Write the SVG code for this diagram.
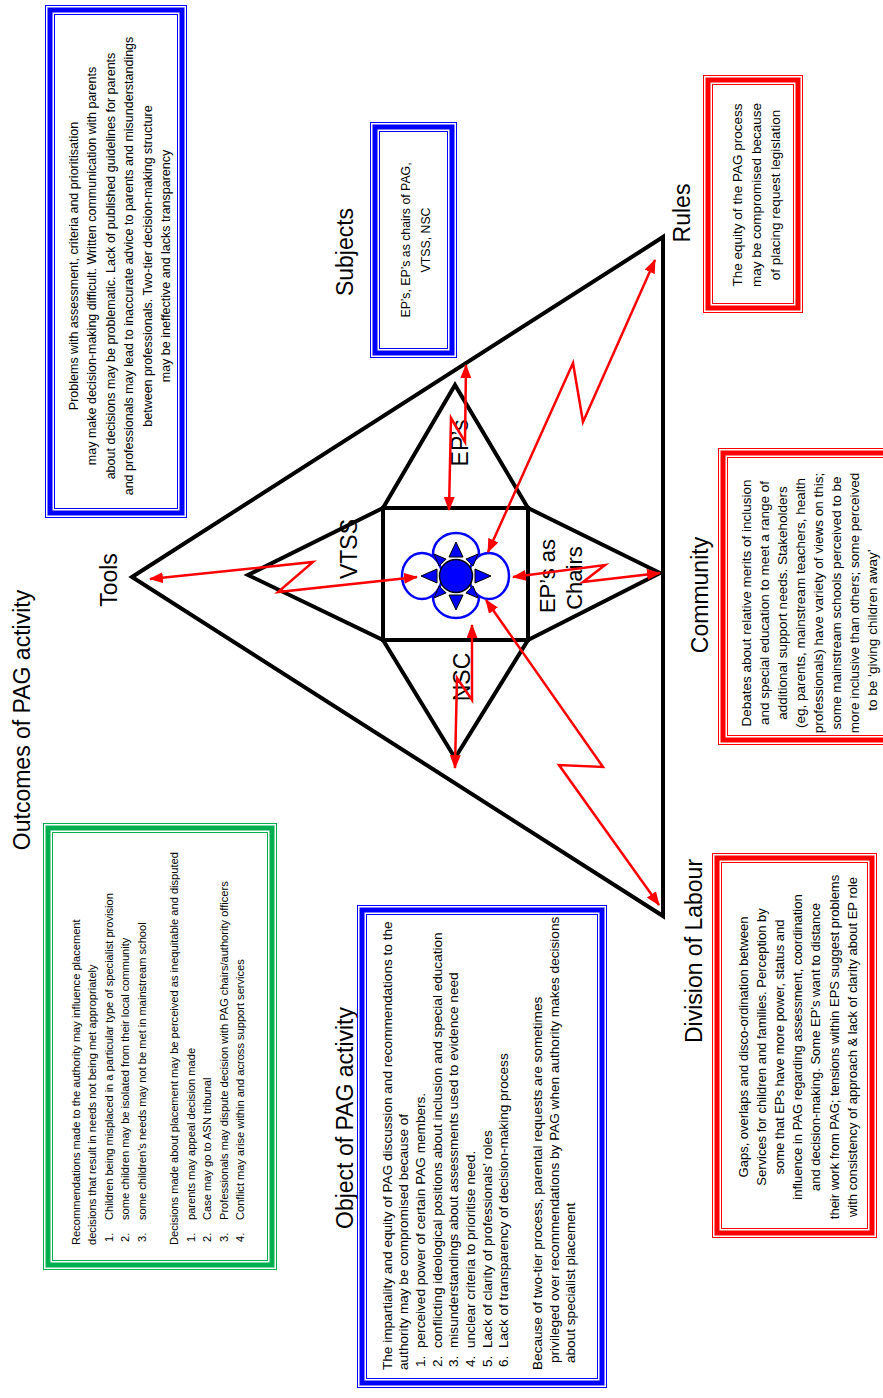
<svg xmlns="http://www.w3.org/2000/svg" width="883" height="1398" viewBox="0 0 883 1398">
<defs>
<style>
text { font-family: "Liberation Sans", Arial, sans-serif; fill: #000; }
.title { font-size: 23px; text-anchor: middle; }
.lbl { font-size: 23px; text-anchor: middle; }
.lbl2 { font-size: 22px; text-anchor: middle; }
.c { text-anchor: middle; }
.thin { fill: none; stroke-width: 1; }
.thick { fill: none; stroke-width: 5; }
.blue { stroke: #0000FF; }
.red { stroke: #FF0000; }
.green { stroke: #00B050; }
.frame { fill: none; stroke: #000; stroke-width: 4; stroke-linejoin: miter; }
.conn { fill: none; stroke: #FF0000; stroke-width: 2.5; stroke-linejoin: miter; }
.petal { fill: #fff; stroke: #0000FF; stroke-width: 2.5; }
.barrow { fill: #0000FF; stroke: #000; stroke-width: 1; stroke-linejoin: miter; }
.t-tools { font-size: 12.5px; }
.t-subj { font-size: 12.3px; }
.t-rules { font-size: 13.5px; }
.t-comm { font-size: 13.5px; }
.t-div { font-size: 13px; }
.t-out { font-size: 11.1px; }
.t-obj { font-size: 13.6px; }
</style>
<marker id="ah" markerUnits="userSpaceOnUse" markerWidth="14" markerHeight="11" refX="13" refY="5.5" orient="auto-start-reverse" viewBox="0 0 14 11">
<path d="M0,0 L14,5.5 L0,11 Z" fill="#FF0000"/>
</marker>
</defs>

<!-- Activity triangle and mediating structure -->
<g id="activity-triangle">
<polygon class="frame" points="132,577 663,237 663,916"/>
</g>
<g id="node-eps">
<polygon class="frame" points="383,508 455,385 528,508"/>
<text class="lbl" transform="translate(468,443) rotate(-90)">EP’s</text>
</g>
<g id="node-chairs">
<polygon class="frame" points="528,508 660,573 528,640"/>
<text class="lbl2" transform="translate(555,576) rotate(-90)">EP’s as</text>
<text class="lbl2" transform="translate(582,578) rotate(-90)">Chairs</text>
</g>
<g id="node-nsc">
<polygon class="frame" points="383,640 455,758 528,640"/>
<text class="lbl" transform="translate(470,677) rotate(-90)">NSC</text>
</g>
<g id="node-vtss">
<polygon class="frame" points="383,508 248,575 383,640"/>
<text class="lbl" transform="translate(357,549) rotate(-90)">VTSS</text>
</g>
<g id="node-pag">
<rect class="frame" x="383" y="508" width="145" height="132"/>
<ellipse class="petal" cx="456" cy="554" rx="23" ry="21"/>
<ellipse class="petal" cx="456" cy="597" rx="23" ry="21"/>
<ellipse class="petal" cx="422" cy="576" rx="20" ry="23"/>
<ellipse class="petal" cx="489" cy="576" rx="20" ry="23"/>
<polygon class="barrow" points="456,542 449,557 463,557"/>
<polygon class="barrow" points="456,610 449,595 463,595"/>
<polygon class="barrow" points="421,576 437,569 437,583"/>
<polygon class="barrow" points="491,576 475,569 475,583"/>
<polygon class="barrow" points="434.1,554.1 446.1,559.1 439.1,566.1"/>
<polygon class="barrow" points="477.9,554.1 473,566.1 465.9,559.1"/>
<polygon class="barrow" points="477.9,597.9 465.9,592.9 473,585.9"/>
<polygon class="barrow" points="434.1,597.9 439.1,585.9 446.1,592.9"/>
<circle cx="456" cy="576" r="16.5" fill="#0000FF" stroke="#000" stroke-width="1.5"/>
</g>

<!-- Corner titles -->
<g id="label-tools"><text class="title" transform="translate(117,580) rotate(-90)">Tools</text></g>
<g id="label-subjects"><text class="title" transform="translate(353,252) rotate(-90)">Subjects</text></g>
<g id="label-rules"><text class="title" transform="translate(690,213) rotate(-90)">Rules</text></g>
<g id="label-community"><text class="title" transform="translate(708,595) rotate(-90)">Community</text></g>
<g id="label-division"><text class="title" transform="translate(702,951) rotate(-90)">Division of Labour</text></g>
<g id="label-outcomes"><text class="title" transform="translate(30,720) rotate(-90)">Outcomes of PAG activity</text></g>
<g id="label-object"><text class="title" transform="translate(353,1118) rotate(-90)">Object of PAG activity</text></g>

<!-- Tools box -->
<g id="box-tools">
<rect class="thin blue" x="45.5" y="5.5" width="141" height="512"/>
<rect class="thick blue" x="50" y="10" width="132" height="503"/>
<rect class="thin blue" x="54.5" y="14.5" width="123" height="494"/>
<g class="t-tools c">
<text transform="translate(77.8,266) rotate(-90)">Problems with assessment, criteria and prioritisation</text>
<text transform="translate(96.3,266) rotate(-90)">may make decision-making difficult. Written communication with parents</text>
<text transform="translate(114.8,266) rotate(-90)">about decisions may be problematic. Lack of published guidelines for parents</text>
<text transform="translate(133.3,266) rotate(-90)">and professionals may lead to inaccurate advice to parents and misunderstandings</text>
<text transform="translate(151.8,266) rotate(-90)">between professionals. Two-tier decision-making structure</text>
<text transform="translate(170.3,266) rotate(-90)">may be ineffective and lacks transparency</text>
</g>
</g>

<!-- Subjects box -->
<g id="box-subjects">
<rect class="thin blue" x="370.5" y="122.5" width="86" height="235"/>
<rect class="thick blue" x="375" y="127" width="77" height="226"/>
<rect class="thin blue" x="379.5" y="131.5" width="68" height="217"/>
<g class="t-subj c">
<text transform="translate(410,240) rotate(-90)">EP’s, EP’s as chairs of PAG,</text>
<text transform="translate(430,240) rotate(-90)">VTSS, NSC</text>
</g>
</g>

<!-- Rules box -->
<g id="box-rules">
<rect class="thin red" x="703.5" y="75.5" width="99" height="237"/>
<rect class="thick red" x="708" y="80" width="90" height="228"/>
<rect class="thin red" x="712.5" y="84.5" width="81" height="219"/>
<g class="t-rules c">
<text transform="translate(742,195) rotate(-90)">The equity of the PAG process</text>
<text transform="translate(761,195) rotate(-90)">may be compromised because</text>
<text transform="translate(780,195) rotate(-90)">of placing request legislation</text>
</g>
</g>

<!-- Community box -->
<g id="box-community">
<rect class="thin red" x="718.5" y="448.5" width="200" height="296"/>
<rect class="thick red" x="723" y="453" width="200" height="287"/>
<rect class="thin red" x="727.5" y="457.5" width="200" height="278"/>
<g class="t-comm c">
<text transform="translate(751,603) rotate(-90)">Debates about relative merits of inclusion</text>
<text transform="translate(769,603) rotate(-90)">and special education to meet a range of</text>
<text transform="translate(787,603) rotate(-90)">additional support needs. Stakeholders</text>
<text transform="translate(805,603) rotate(-90)">(eg, parents, mainstream teachers, health</text>
<text transform="translate(823,603) rotate(-90)">professionals) have variety of views on this;</text>
<text transform="translate(841,603) rotate(-90)">some mainstream schools perceived to be</text>
<text transform="translate(859,603) rotate(-90)">more inclusive than others; some perceived</text>
<text transform="translate(877,630) rotate(-90)">to be ‘giving children away’</text>
</g>
</g>

<!-- Division of Labour box -->
<g id="box-division">
<rect class="thin red" x="712.5" y="853.5" width="164" height="384"/>
<rect class="thick red" x="717" y="858" width="155" height="375"/>
<rect class="thin red" x="721.5" y="862.5" width="146" height="366"/>
<g class="t-div c">
<text transform="translate(748,1047) rotate(-90)">Gaps, overlaps and disco-ordination between</text>
<text transform="translate(766.1,1047) rotate(-90)">Services for children and families. Perception by</text>
<text transform="translate(784.2,1047) rotate(-90)">some that EPs have more power, status and</text>
<text transform="translate(802.3,1047) rotate(-90)">influence in PAG regarding assessment, coordination</text>
<text transform="translate(820.4,1047) rotate(-90)">and decision-making. Some EP’s want to distance</text>
<text transform="translate(838.5,1047) rotate(-90)">their work from PAG; tensions within EPS suggest problems</text>
<text transform="translate(856.6,1047) rotate(-90)">with consistency of approach &amp; lack of clarity about EP role</text>
</g>
</g>

<!-- Outcomes box -->
<g id="box-outcomes">
<rect class="thin green" x="43.5" y="823.5" width="233" height="446"/>
<rect class="thick green" x="48" y="828" width="224" height="437"/>
<rect class="thin green" x="52.5" y="832.5" width="215" height="428"/>
<g class="t-out">
<text transform="translate(80,1245) rotate(-90)">Recommendations made to the authority may influence placement</text>
<text transform="translate(96.4,1245) rotate(-90)">decisions that result in needs not being met appropriately</text>
<text transform="translate(112.8,1242) rotate(-90)">1.</text>
<text transform="translate(112.8,1220) rotate(-90)">Children being misplaced in a particular type of specialist provision</text>
<text transform="translate(129.2,1242) rotate(-90)">2.</text>
<text transform="translate(129.2,1220) rotate(-90)">some children may be isolated from their local community</text>
<text transform="translate(145.6,1242) rotate(-90)">3.</text>
<text transform="translate(145.6,1220) rotate(-90)">some children’s needs may not be met in mainstream school</text>
<text transform="translate(178.4,1245) rotate(-90)">Decisions made about placement may be perceived as inequitable and disputed</text>
<text transform="translate(194.8,1242) rotate(-90)">1.</text>
<text transform="translate(194.8,1220) rotate(-90)">parents may appeal decision made</text>
<text transform="translate(211.2,1242) rotate(-90)">2.</text>
<text transform="translate(211.2,1220) rotate(-90)">Case may go to ASN tribunal</text>
<text transform="translate(227.6,1242) rotate(-90)">3.</text>
<text transform="translate(227.6,1220) rotate(-90)">Professionals may dispute decision with PAG chairs/authority officers</text>
<text transform="translate(244,1242) rotate(-90)">4.</text>
<text transform="translate(244,1220) rotate(-90)">Conflict may arise within and across support services</text>
</g>
</g>

<!-- Object box -->
<g id="box-object">
<rect class="thin blue" x="357.5" y="905.5" width="249" height="482"/>
<rect class="thick blue" x="362" y="910" width="240" height="473"/>
<rect class="thin blue" x="366.5" y="914.5" width="231" height="464"/>
<g class="t-obj">
<text transform="translate(391.5,1370) rotate(-90)">The impartiality and equity of PAG discussion and recommendations to the</text>
<text transform="translate(408.2,1370) rotate(-90)">authority may be compromised because of</text>
<text transform="translate(424.9,1367) rotate(-90)">1.</text>
<text transform="translate(424.9,1348) rotate(-90)">perceived power of certain PAG members.</text>
<text transform="translate(441.6,1367) rotate(-90)">2.</text>
<text transform="translate(441.6,1348) rotate(-90)">conflicting ideological positions about inclusion and special education</text>
<text transform="translate(458.3,1367) rotate(-90)">3.</text>
<text transform="translate(458.3,1348) rotate(-90)">misunderstandings about assessments used to evidence need</text>
<text transform="translate(475,1367) rotate(-90)">4.</text>
<text transform="translate(475,1348) rotate(-90)">unclear criteria to prioritise need.</text>
<text transform="translate(491.7,1367) rotate(-90)">5.</text>
<text transform="translate(491.7,1348) rotate(-90)">Lack of clarity of professionals’ roles</text>
<text transform="translate(508.4,1367) rotate(-90)">6.</text>
<text transform="translate(508.4,1348) rotate(-90)">Lack of transparency of decision-making process</text>
<text transform="translate(541.8,1370) rotate(-90)">Because of two-tier process, parental requests are sometimes</text>
<text transform="translate(558.5,1363) rotate(-90)">privileged over recommendations by PAG when authority makes decisions</text>
<text transform="translate(575.2,1363) rotate(-90)">about specialist placement</text>
</g>
</g>

<!-- Connectors -->
<g id="connectors">
<polyline class="conn" marker-start="url(#ah)" marker-end="url(#ah)" points="150,579 313,562 278,592 417,577"/>
<polyline class="conn" marker-start="url(#ah)" marker-end="url(#ah)" points="466,365 465,442 451,418 449,510"/>
<polyline class="conn" marker-start="url(#ah)" marker-end="url(#ah)" points="513,577 605,565 583,582 660,573"/>
<polyline class="conn" marker-start="url(#ah)" marker-end="url(#ah)" points="472,625 472,700 457,678 455,768"/>
<polyline class="conn" marker-start="url(#ah)" marker-end="url(#ah)" points="488,552 573,363 583,422 655,260"/>
<polyline class="conn" marker-start="url(#ah)" marker-end="url(#ah)" points="486,600 603,767 559,765 659,905"/>
</g>
</svg>
